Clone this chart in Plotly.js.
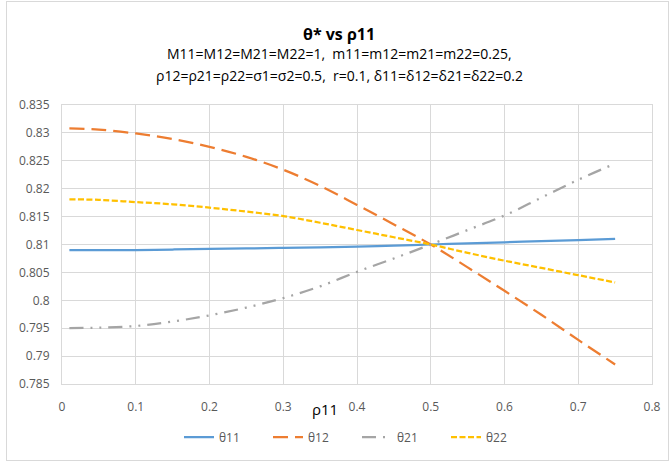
<!DOCTYPE html>
<html>
<head>
<meta charset="utf-8">
<script src="https://cdn.plot.ly/plotly-3.0.1.min.js"></script>
<style>
  html, body { margin: 0; padding: 0; background: #ffffff; }
  #wrap { position: relative; width: 671px; height: 463px; }
  #frame { position: absolute; left: 6px; top: 1px; width: 663px; height: 460px;
           border: 1px solid #d9d9d9; box-sizing: border-box; pointer-events: none; }
  #chart { position: absolute; left: 0; top: 0; width: 671px; height: 463px; }
</style>
</head>
<body>
<div id="wrap">
  <div id="chart"></div>
  <div id="frame"></div>
</div>
<script>
// rho11 sample points
const rho11 = [0.01, 0.05, 0.10, 0.15, 0.20, 0.25, 0.30, 0.35, 0.40, 0.45, 0.50, 0.55, 0.60, 0.65, 0.70, 0.75];

// theta* for each series
const theta11 = [0.8090, 0.8090, 0.8090, 0.8091, 0.8092, 0.8093, 0.8094, 0.8095, 0.8096, 0.8098, 0.8100, 0.8102, 0.8104, 0.8106, 0.8108, 0.8110];
const theta12 = [0.8308, 0.8306, 0.8299, 0.8289, 0.8275, 0.8257, 0.8234, 0.8205, 0.8171, 0.8136, 0.8100, 0.8059, 0.8017, 0.7974, 0.7929, 0.7885];
const theta21 = [0.7950, 0.7951, 0.7954, 0.7962, 0.7973, 0.7987, 0.8004, 0.8025, 0.8051, 0.8075, 0.8100, 0.8126, 0.8152, 0.8184, 0.8216, 0.8245];
const theta22 = [0.8181, 0.8180, 0.8176, 0.8172, 0.8166, 0.8159, 0.8151, 0.8139, 0.8126, 0.8113, 0.8100, 0.8085, 0.8071, 0.8058, 0.8045, 0.8032];

const seriesNames = ['θ11', 'θ12', 'θ21', 'θ22'];

const xTicks = [0, 0.1, 0.2, 0.3, 0.4, 0.5, 0.6, 0.7, 0.8];
const xTickText = ['0', '0.1', '0.2', '0.3', '0.4', '0.5', '0.6', '0.7', '0.8'];
const yTicks = [0.785, 0.79, 0.795, 0.8, 0.805, 0.81, 0.815, 0.82, 0.825, 0.83, 0.835];
const yTickText = ['0.785', '0.79', '0.795', '0.8', '0.805', '0.81', '0.815', '0.82', '0.825', '0.83', '0.835'];

const titleText = 'θ* vs ρ11';
const subtitle1 = 'M11=M12=M21=M22=1,  m11=m12=m21=m22=0.25,';
const subtitle2 = 'ρ12=ρ21=ρ22=σ1=σ2=0.5,  r=0.1, δ11=δ12=δ21=δ22=0.2';
const xTitle = 'ρ11';

const FONT = '"Open Sans", sans-serif';
const tickGray = '#595959';
const gridGray = '#d9d9d9';

const traces = [
  { x: rho11, y: theta11, name: seriesNames[0], mode: 'lines',
    line: { color: '#5b9bd5', width: 2.25, shape: 'spline' } },
  { x: rho11, y: theta12, name: seriesNames[1], mode: 'lines',
    line: { color: '#ed7d31', width: 2.25, dash: '15px,7px', shape: 'spline' } },
  { x: rho11, y: theta21, name: seriesNames[2], mode: 'lines',
    line: { color: '#a5a5a5', width: 2.25, dash: '14px,7px,2px,7px,2px,7px', shape: 'spline' } },
  { x: rho11, y: theta22, name: seriesNames[3], mode: 'lines',
    line: { color: '#ffc000', width: 2.25, dash: '6px,2.5px', shape: 'spline' } }
];

const layout = {
  width: 671, height: 463,
  margin: { l: 62, r: 19, t: 105, b: 75 },
  paper_bgcolor: '#ffffff', plot_bgcolor: '#ffffff',
  font: { family: FONT, color: tickGray, size: 12 },
  showlegend: true,
  legend: { orientation: 'h', x: 0.5, xanchor: 'center', y: -0.19, yanchor: 'middle',
            font: { family: FONT, size: 12, color: tickGray },
            entrywidth: 44, entrywidthmode: 'pixels', tracegroupgap: 0 },
  xaxis: {
    range: [0, 0.8], tickvals: xTicks, ticktext: xTickText,
    showgrid: true, gridcolor: gridGray, gridwidth: 1,
    showline: true, linecolor: gridGray, linewidth: 1, mirror: true,
    zeroline: false, ticks: '', ticklabelstandoff: 12,
    tickfont: { family: FONT, size: 12, color: tickGray }
  },
  yaxis: {
    range: [0.785, 0.835], tickvals: yTicks, ticktext: yTickText,
    showgrid: true, gridcolor: gridGray, gridwidth: 1,
    showline: true, linecolor: gridGray, linewidth: 1, mirror: true,
    zeroline: false, ticks: '', ticklabelstandoff: 9,
    tickfont: { family: FONT, size: 12, color: tickGray }
  },
  annotations: [
    { text: '<b>' + titleText + '</b>', xref: 'paper', yref: 'paper', x: 0.47, y: 1.256,
      xanchor: 'center', yanchor: 'middle', showarrow: false,
      font: { family: FONT, size: 16, color: '#000000' } },
    { text: subtitle1, xref: 'paper', yref: 'paper', x: 0.47, y: 1.184,
      xanchor: 'center', yanchor: 'middle', showarrow: false,
      font: { family: FONT, size: 14, color: '#000000' } },
    { text: subtitle2, xref: 'paper', yref: 'paper', x: 0.47, y: 1.106,
      xanchor: 'center', yanchor: 'middle', showarrow: false,
      font: { family: FONT, size: 14, color: '#000000' } },
    { text: xTitle, xref: 'paper', yref: 'paper', x: 0.446, y: -0.088,
      xanchor: 'center', yanchor: 'middle', showarrow: false,
      font: { family: FONT, size: 15, color: '#000000' } }
  ]
};

Plotly.newPlot('chart', traces, layout, { displayModeBar: false, staticPlot: true });
</script>
</body>
</html>
